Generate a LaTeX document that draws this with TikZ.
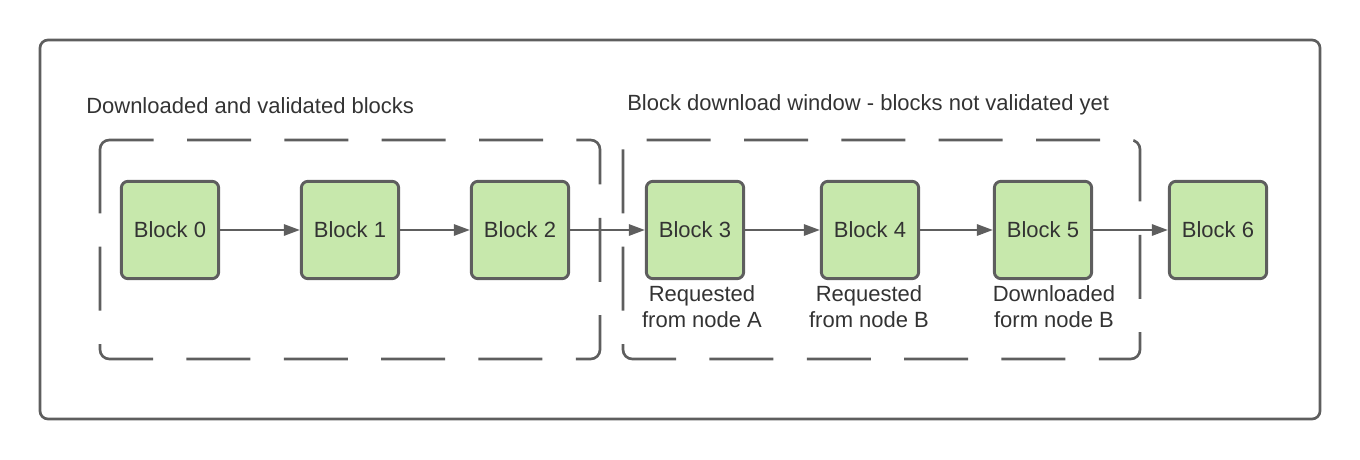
\documentclass[tikz,border=0pt]{standalone}
\usepackage{fontspec}
\setmainfont{Liberation Sans}
\usetikzlibrary{arrows.meta}
\definecolor{lc}{HTML}{5E5E5E}
\definecolor{gf}{HTML}{C7E8AC}
\definecolor{tx}{HTML}{333333}
\begin{document}
\begin{tikzpicture}[x=0.75pt,y=-0.75pt,
  blockbox/.style={draw=lc, fill=gf, line width=2.2pt, rounded corners=5pt,
    minimum width=73pt, minimum height=73pt, inner sep=0pt,
    font=\fontsize{16.5}{19}\selectfont, text=tx},
  lbl/.style={font=\fontsize{16.5}{19.5}\selectfont, text=tx, align=center, inner sep=0pt},
  ttl/.style={font=\fontsize{16.5}{19}\selectfont, text=tx, anchor=west, inner sep=0pt},
  frame/.style={draw=lc, line width=2pt, rounded corners=6pt},
  dashframe/.style={draw=lc, line width=2pt, rounded corners=7pt, dash pattern=on 48pt off 25pt},
  conn/.style={draw=lc, line width=1.5pt, -{Triangle[length=12pt,width=8.5pt]}}]
\useasboundingbox (0,0) rectangle (1360,460);
\draw[frame] (40,40) rectangle (1320,419);
\draw[dashframe] (100,140) rectangle (600,359);
\draw[dashframe] (623,140) rectangle (1140,359);
\node[ttl] (t1) at (86,106) {Downloaded and validated blocks};
\node[ttl] (t2) at (627,105) {Block download window - blocks not validated yet};
\node[blockbox] (b0) at (170,230) {Block 0};
\node[blockbox] (b1) at (350,230) {Block 1};
\node[blockbox] (b2) at (520,230) {Block 2};
\node[blockbox] (b3) at (695,230) {Block 3};
\node[blockbox] (b4) at (870,230) {Block 4};
\node[blockbox] (b5) at (1043,230) {Block 5};
\node[blockbox] (b6) at (1218,230) {Block 6};
\draw[conn] (b0) -- (b1);
\draw[conn] (b1) -- (b2);
\draw[conn] (b2) -- (b3);
\draw[conn] (b3) -- (b4);
\draw[conn] (b4) -- (b5);
\draw[conn] (b5) -- (b6);
\node[lbl] (l3) at (702,307) {Requested\\from node A};
\node[lbl] (l4) at (869,307) {Requested\\from node B};
\node[lbl] (l5) at (1054,307) {Downloaded\\form node B};
\end{tikzpicture}
\end{document}
